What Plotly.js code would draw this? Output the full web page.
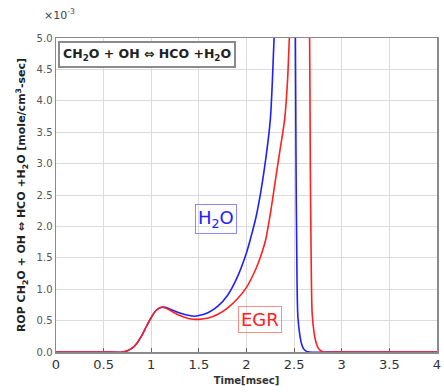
<!DOCTYPE html>
<html>
<head>
<meta charset="utf-8">
<script src="https://cdn.plot.ly/plotly-3.0.1.min.js"></script>
<style>html,body{margin:0;padding:0;background:#fff;}#chart{width:444px;height:392px;}</style>
</head>
<body>
<div id="chart"></div>
<script>
// Time in msec, ROP in units of 1e-3 mole/cm3-sec
const timeH2O = [0, 0.5, 0.7, 0.75, 0.8, 0.85, 0.9, 0.95, 1.0, 1.05, 1.1, 1.15, 1.2, 1.3, 1.4, 1.45, 1.5, 1.6, 1.7, 1.8, 1.9, 2.0, 2.05, 2.1, 2.15, 2.2, 2.25, 2.29, 2.33, 2.4, 2.45, 2.5, 2.51, 2.52, 2.53, 2.54, 2.56, 2.58, 2.6, 2.63, 2.66, 3.0, 4.0];
const ropH2O  = [0, 0, 0, 0.02, 0.06, 0.14, 0.26, 0.41, 0.55, 0.66, 0.71, 0.71, 0.68, 0.62, 0.58, 0.57, 0.58, 0.63, 0.73, 0.9, 1.18, 1.58, 1.85, 2.15, 2.55, 3.05, 3.7, 5.0, 6.3, 8.0, 9.0, 8.0, 6.0, 3.0, 1.2, 0.55, 0.27, 0.12, 0.05, 0.01, 0, 0, 0];
const timeEGR = [0, 0.5, 0.7, 0.75, 0.8, 0.85, 0.9, 0.95, 1.0, 1.05, 1.1, 1.15, 1.2, 1.3, 1.4, 1.5, 1.6, 1.7, 1.8, 1.9, 2.0, 2.1, 2.15, 2.2, 2.25, 2.3, 2.35, 2.4, 2.43, 2.45, 2.5, 2.58, 2.64, 2.66, 2.67, 2.68, 2.69, 2.71, 2.73, 2.75, 2.78, 2.81, 3.0, 4.0];
const ropEGR  = [0, 0, 0, 0.02, 0.06, 0.14, 0.26, 0.41, 0.55, 0.66, 0.71, 0.70, 0.66, 0.58, 0.53, 0.52, 0.54, 0.6, 0.7, 0.84, 1.03, 1.33, 1.53, 1.78, 2.2, 2.7, 3.2, 3.7, 4.3, 5.0, 6.5, 8.5, 7.0, 5.5, 3.0, 1.3, 0.6, 0.3, 0.15, 0.07, 0.02, 0, 0, 0];
const xTicks = [0, 0.5, 1, 1.5, 2, 2.5, 3, 3.5, 4];
const xTickText = ['0', '0.5', '1', '1.5', '2', '2.5', '3', '3.5', '4'];
const yTicks = [0, 0.5, 1, 1.5, 2, 2.5, 3, 3.5, 4, 4.5, 5];

const font = 'Verdana, "DejaVu Sans", sans-serif';
const traces = [
  {x: timeH2O, y: ropH2O, mode: 'lines', line: {color: '#2020ff', width: 1.6, shape: 'spline', smoothing: 0.9}, name: 'H2O'},
  {x: timeEGR, y: ropEGR, mode: 'lines', line: {color: '#ff2020', width: 1.6, shape: 'spline', smoothing: 0.9}, name: 'EGR'}
];
const layout = {
  width: 444, height: 392,
  margin: {l: 56, r: 7, t: 38, b: 40},
  paper_bgcolor: '#fff', plot_bgcolor: '#fff',
  showlegend: false,
  font: {family: font, color: '#333'},
  xaxis: {
    range: [0, 4], tickvals: xTicks, ticktext: xTickText,
    showgrid: true, gridcolor: '#dcdcdc', gridwidth: 1,
    showline: true, linecolor: '#8a8a8a', linewidth: 1.5, mirror: true,
    ticks: 'inside', ticklen: 4, tickcolor: '#666',
    tickfont: {size: 13, color: '#333', family: font},
    zeroline: false,
    title: {text: '<b>Time[msec]</b>', font: {size: 10, color: '#333', family: font}, standoff: 6}
  },
  yaxis: {
    range: [0, 5], tickvals: yTicks, tickformat: '.1f',
    showgrid: true, gridcolor: '#dcdcdc', gridwidth: 1,
    showline: true, linecolor: '#8a8a8a', linewidth: 1.5, mirror: true,
    ticks: '', ticklen: 3,
    tickfont: {size: 10, color: '#555', family: font},
    zeroline: false,
    title: {text: '<b>ROP CH<sub>2</sub>O + OH ⇔ HCO +H<sub>2</sub>O [mole/cm<sup>3</sup>-sec]</b>', font: {size: 11, color: '#222', family: font}, standoff: 8}
  },
  annotations: [
    {xref: 'paper', yref: 'paper', x: -0.036, y: 1.045, xanchor: 'left', yanchor: 'bottom', showarrow: false,
     text: '×10<sup>-3</sup>', font: {size: 11, color: '#444', family: font}},
    {xref: 'paper', yref: 'paper', x: 0.004, y: 0.99, xanchor: 'left', yanchor: 'top', showarrow: false,
     text: '<b>CH<sub>2</sub>O + OH ⇔ HCO +H<sub>2</sub>O</b>', font: {size: 12.5, color: '#222', family: font},
     bordercolor: '#8a8a8a', borderwidth: 2, borderpad: 3, bgcolor: '#fff'},
    {xref: 'x', yref: 'y', x: 1.68, y: 2.11, xanchor: 'center', yanchor: 'middle', showarrow: false,
     text: 'H<sub>2</sub>O', font: {size: 18, color: '#2020ff', family: font},
     bordercolor: '#8a8aff', borderwidth: 1, borderpad: 2, bgcolor: 'rgba(255,255,255,0)'},
    {xref: 'x', yref: 'y', x: 2.14, y: 0.51, xanchor: 'center', yanchor: 'middle', showarrow: false,
     text: 'EGR', font: {size: 18, color: '#ff2020', family: font},
     bordercolor: '#ff8a8a', borderwidth: 1, borderpad: 2, bgcolor: 'rgba(255,255,255,0)'}
  ]
};
Plotly.newPlot('chart', traces, layout, {displayModeBar: false, staticPlot: true});
</script>
</body>
</html>
